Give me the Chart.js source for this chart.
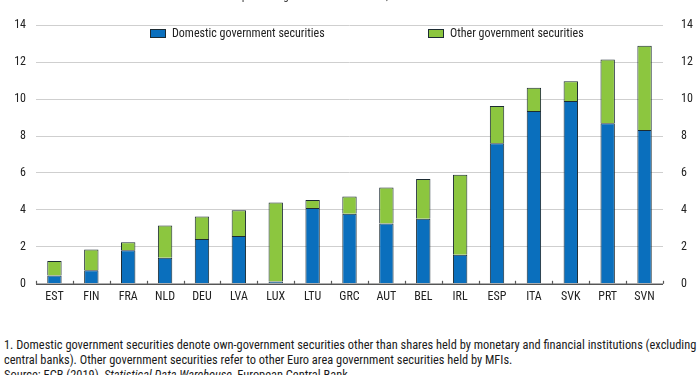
<!DOCTYPE html>
<html>
<head>
<meta charset="utf-8">
<script src="https://cdn.jsdelivr.net/npm/chart.js@4"></script>
<style>
  html, body { margin: 0; padding: 0; background: #fff; width: 700px; height: 375px; overflow: hidden; position: relative; }
  #wrap { position: absolute; left: 0; top: 0; width: 700px; height: 309px; }
  .narrow { font-family: 'Liberation Sans Narrow', 'Arial Narrow', 'Roboto Condensed', 'Liberation Sans', Arial, sans-serif; }
  #topnote { position: absolute; top: -12px; left: 218px; width: 280px; font-size: 12px; color: #444; white-space: nowrap; }
  #foot { position: absolute; left: 4px; top: 337px; width: 720px; font-size: 12.4px; line-height: 15px; color: #1a1a1a; white-space: nowrap; }
</style>
</head>
<body>
<div id="wrap"><canvas id="c" width="700" height="309"></canvas></div>
<div id="topnote" class="narrow">As a percentage of total MFI assets, end 2018</div>
<div id="foot" class="narrow">
  <div>1. Domestic government securities denote own-government securities other than shares held by monetary and financial institutions (excluding</div>
  <div>central banks). Other government securities refer to other Euro area government securities held by MFIs.</div>
  <div>Source: ECB (2019), <i>Statistical Data Warehouse</i>, European Central Bank.</div>
</div>
<script>
const categories = ["EST","FIN","FRA","NLD","DEU","LVA","LUX","LTU","GRC","AUT","BEL","IRL","ESP","ITA","SVK","PRT","SVN"];
const domestic = [0.45, 0.73, 1.82, 1.41, 2.43, 2.59, 0.12, 4.11, 3.79, 3.27, 3.52, 1.57, 7.61, 9.35, 9.90, 8.69, 8.33];
const totals   = [1.23, 1.86, 2.25, 3.15, 3.65, 3.98, 4.40, 4.54, 4.72, 5.22, 5.67, 5.90, 9.63, 10.62, 10.97, 12.14, 12.89];
const other = totals.map((t, i) => Math.round((t - domestic[i]) * 100) / 100);
const seriesNames = ["Domestic government securities", "Other government securities"];
const yTicks = [0, 2, 4, 6, 8, 10, 12, 14];

const FONT = "'Liberation Sans Narrow', 'Arial Narrow', 'Roboto Condensed', 'Liberation Sans', Arial, sans-serif";
const BLUE = '#0a6fbd';
const GREEN = '#8cc63f';
const EDGE = '#1c2b33';

const customDraw = {
  id: 'customDraw',
  afterDatasetsDraw(chart) {
    const ctx = chart.ctx;
    const x = chart.scales.x;
    const y = chart.scales.y;
    const y0 = y.getPixelForValue(0);
    ctx.save();
    ctx.strokeStyle = '#555';
    ctx.lineWidth = 1.2;
    ctx.beginPath();
    ctx.moveTo(chart.chartArea.left, y0 + 0.5);
    ctx.lineTo(chart.chartArea.right, y0 + 0.5);
    ctx.stroke();
    const step = x.getPixelForValue(1) - x.getPixelForValue(0);
    for (let i = 0; i <= categories.length; i++) {
      const px = Math.round(x.getPixelForValue(i) - step / 2) + 0.5;
      ctx.beginPath();
      ctx.moveTo(px, y0 - 3);
      ctx.lineTo(px, y0);
      ctx.stroke();
    }
    const items = [
      { text: chart.data.datasets[0].label, color: chart.data.datasets[0].backgroundColor, bx: 150 },
      { text: chart.data.datasets[1].label, color: chart.data.datasets[1].backgroundColor, bx: 428 }
    ];
    ctx.font = '12px ' + FONT;
    ctx.textBaseline = 'middle';
    ctx.textAlign = 'left';
    items.forEach(it => {
      ctx.fillStyle = it.color;
      ctx.fillRect(it.bx, 29, 16, 9);
      ctx.strokeStyle = EDGE;
      ctx.lineWidth = 1;
      ctx.strokeRect(it.bx + 0.5, 29.5, 15, 8);
      ctx.fillStyle = '#222';
      ctx.fillText(it.text, it.bx + 22, 34);
    });
    ctx.restore();
  }
};

new Chart(document.getElementById('c'), {
  type: 'bar',
  data: {
    labels: categories,
    datasets: [
      { label: seriesNames[0], data: domestic, backgroundColor: BLUE, borderColor: EDGE, borderWidth: 1, barPercentage: 0.78, categoryPercentage: 0.5 },
      { label: seriesNames[1], data: other, backgroundColor: GREEN, borderColor: EDGE, borderWidth: 1, barPercentage: 0.78, categoryPercentage: 0.5 }
    ]
  },
  options: {
    responsive: false,
    animation: false,
    devicePixelRatio: 1,
    layout: { padding: { top: 17, left: 0, right: 0, bottom: 0 } },
    plugins: { legend: { display: false }, tooltip: { enabled: false }, title: { display: false } },
    scales: {
      x: {
        stacked: true,
        grid: { display: false },
        border: { display: false },
        ticks: { color: '#222', font: { family: FONT, size: 12 }, padding: -2, maxRotation: 0, autoSkip: false },
        afterFit(s) { s.height = 24; }
      },
      y: {
        stacked: true,
        position: 'left',
        min: 0, max: 14,
        afterBuildTicks(s) { s.ticks = yTicks.map(v => ({ value: v })); },
        grid: { color: '#cfcfcf', lineWidth: 1, drawTicks: false },
        border: { display: false },
        ticks: { color: '#222', font: { family: FONT, size: 12 }, padding: 10 },
        afterFit(s) { s.width = 36; }
      },
      y2: {
        position: 'right',
        min: 0, max: 14,
        afterBuildTicks(s) { s.ticks = yTicks.map(v => ({ value: v })); },
        grid: { display: false, drawTicks: false },
        border: { display: false },
        ticks: { color: '#222', font: { family: FONT, size: 12 }, padding: 18 },
        afterFit(s) { s.width = 37; }
      }
    }
  },
  plugins: [customDraw]
});
</script>
</body>
</html>
